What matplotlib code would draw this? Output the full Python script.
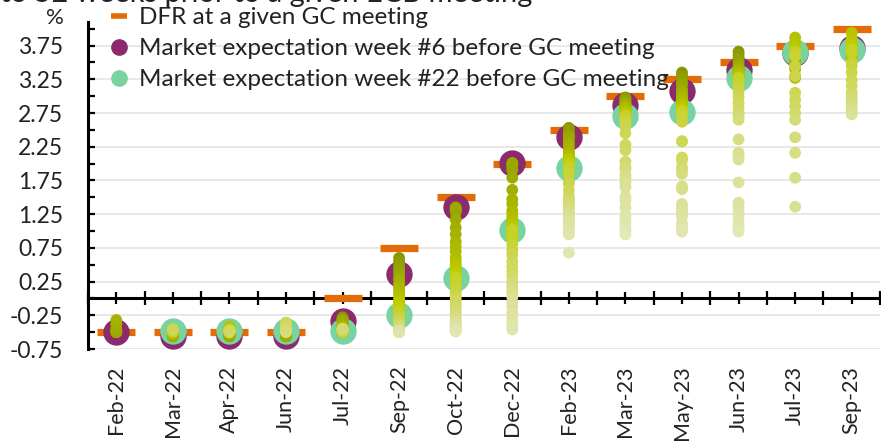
import numpy as np
import matplotlib
matplotlib.use("Agg")
import matplotlib.pyplot as plt
from matplotlib.colors import LinearSegmentedColormap
from matplotlib.lines import Line2D
from matplotlib.ticker import FormatStrFormatter

plt.rcParams['font.family'] = ['Lato', 'DejaVu Sans']
plt.rcParams['axes.unicode_minus'] = False

nan = np.nan

# ECB Governing Council meetings
meetings = ["Feb-22", "Mar-22", "Apr-22", "Jun-22", "Jul-22", "Sep-22", "Oct-22",
            "Dec-22", "Feb-23", "Mar-23", "May-23", "Jun-23", "Jul-23", "Sep-23"]

# deposit facility rate decided at each meeting (%)
dfr = [-0.5, -0.5, -0.5, -0.5, 0.0, 0.75, 1.5, 2.0, 2.5, 3.0, 3.25, 3.5, 3.75, 4.0]

# market expectation 6 and 22 weeks before the meeting
week6 = [-0.5, -0.56, -0.56, -0.56, -0.33, 0.36, 1.35, 2.01, 2.40, 2.87, 3.07, 3.39, 3.64, 3.72]
week22 = [nan, -0.49, -0.49, -0.49, -0.49, -0.24, 0.31, 1.02, 1.94, 2.70, 2.77, 3.27, 3.66, 3.69]

# weekly market expectations, week 1 (closest to meeting) onwards
wk_feb22 = [-0.5, -0.5, -0.48, -0.47, -0.5, -0.5, -0.45, -0.38, -0.32]
wk_mar22 = [-0.55, -0.55, -0.56, -0.56, -0.56, -0.56, -0.55, -0.54, -0.53, -0.52, -0.52,
            -0.51, -0.51, -0.5, -0.5, -0.5, -0.49, -0.49, -0.48, -0.48, -0.48, -0.49,
            -0.47, -0.47, -0.46, -0.46]
wk_apr22 = [-0.55, -0.55, -0.56, -0.56, -0.55, -0.56, -0.54, -0.53, -0.52, -0.5, -0.48,
            -0.46, -0.44, -0.42, -0.42, -0.44, -0.45, -0.46, -0.47, -0.48, -0.48, -0.49,
            -0.48, -0.48, -0.47, -0.48, -0.49, -0.5]
wk_jun22 = [-0.56, -0.56, -0.55, -0.55, -0.56, -0.56, -0.54, -0.52, -0.5, -0.48, -0.46,
            -0.44, -0.42, -0.4, -0.38, -0.37, -0.36, -0.38, -0.4, -0.42, -0.45, -0.49,
            -0.44, -0.42, -0.4, -0.38, -0.36, -0.4, -0.45, -0.48, -0.5]
wk_jul22 = [-0.28, -0.3, -0.3, -0.32, -0.33, -0.33, -0.36, -0.38, -0.4, -0.42, -0.44,
            -0.45, -0.46, -0.47, -0.48, -0.48, -0.49, -0.49, -0.5, -0.5, -0.5, -0.49,
            -0.49, -0.48, -0.48, -0.47, -0.46, -0.46, -0.45, -0.45]
wk_sep22 = [0.6, 0.55, 0.5, 0.45, 0.42, 0.36, 0.3, 0.28, 0.22, 0.18, 0.14, 0.1, 0.06,
            0.02, -0.02, -0.05, -0.08, -0.1, -0.13, -0.16, -0.2, -0.24, -0.27, -0.3,
            -0.33, -0.36, -0.38, -0.4, -0.42, -0.43, -0.45, -0.46, -0.47, -0.48,
            -0.48, -0.49, -0.49, -0.5, -0.5, -0.5]
wk_oct22 = [1.33, 1.3, 1.27, 1.3, 1.33, 1.35, 1.17, 1.05, 0.95, 0.84, 0.77, 0.7, 0.61,
            0.55, 0.5, 0.45, 0.4, 0.37, 0.34, 0.28, 0.22, 0.31, 0.18, 0.09, 0.04, 0.0,
            -0.05, -0.1, -0.15, -0.2, -0.25, -0.28, -0.32, -0.35, -0.38, -0.4, -0.42,
            -0.44, -0.46, -0.47, -0.48, -0.49]
wk_dec22 = [2.0, 1.98, 1.95, 1.92, 1.9, 2.01, 1.79, 1.61, 1.47, 1.4, 1.3, 1.25, 1.2,
            1.15, 1.1, 1.07, 1.05, 1.0, 0.97, 0.95, 0.9, 1.02, 0.8, 0.72, 0.65, 0.55,
            0.47, 0.4, 0.33, 0.25, 0.18, 0.12, 0.09, 0.02, -0.06, -0.12, -0.21, -0.28,
            -0.36, -0.4, -0.46]
wk_feb23 = [2.5, 2.53, 2.45, 2.42, 2.4, 2.4, 2.36, 2.3, 2.25, 2.18, 2.15, 2.12, 2.1,
            2.08, 2.07, 2.06, 2.05, 2.02, 2.0, 1.97, 1.95, 1.94, 1.85, 1.73, 1.7, 1.6,
            1.51, 1.47, 1.44, 1.4, 1.35, 1.3, 1.27, 1.22, 1.18, 1.13, 1.1, 1.05, 1.0,
            0.98, 0.95, 0.68]
wk_mar23 = [2.98, 2.97, 2.95, 2.93, 2.9, 2.87, 2.9, 2.88, 2.85, 2.83, 2.82, 2.8, 2.78,
            2.77, 2.75, 2.75, 2.73, 2.73, 2.72, 2.71, 2.7, 2.7, 2.65, 2.61, 2.55, 2.45,
            2.28, 2.2, 2.03, 1.95, 1.91, 1.83, 1.78, 1.72, 1.65, 1.51, 1.45, 1.35,
            1.24, 1.2, 1.13, 1.05, 1.0, 0.95]
wk_may23 = [3.35, 3.3, 3.25, 3.2, 3.17, 3.07, 3.1, 3.05, 3.0, 2.98, 2.95, 2.92, 2.9,
            2.88, 2.85, 2.83, 2.82, 2.8, 2.78, 2.77, 2.75, 2.77, 2.7, 2.62, 2.33, 2.33,
            2.09, 2.05, 1.95, 1.91, 1.85, 1.66, 1.62, 1.4, 1.36, 1.3, 1.27, 1.22,
            1.12, 1.07, 1.02, 0.99]
wk_jun23 = [3.66, 3.62, 3.58, 3.55, 3.5, 3.39, 3.45, 3.42, 3.4, 3.38, 3.36, 3.35, 3.33,
            3.32, 3.3, 3.3, 3.28, 3.27, 3.25, 3.22, 3.2, 3.27, 3.17, 3.1, 3.05, 2.98,
            2.9, 2.83, 2.75, 2.7, 2.65, 2.36, 2.16, 2.1, 2.06, 1.72, 1.42, 1.35, 1.29,
            1.22, 1.14, 1.08, 1.02, 0.99]
wk_jul23 = [nan, nan, nan, nan, nan, 3.64, 3.6, 3.55, 3.5, 3.45, 3.4, 3.3, 3.27, 3.87,
            3.8, 3.75, 3.7, 3.68, 3.65, 3.62, 3.6, 3.66, 3.59, 3.44, 3.3, 3.05, 2.95,
            2.85, 2.75, 2.65, 2.39, 2.16, 1.79, 1.36]
wk_sep23 = [nan, nan, nan, nan, nan, nan, nan, nan, nan, nan, nan, nan, 3.58, 3.55,
            3.94, 3.85, 3.79, 3.75, 3.7, 3.66, 3.64, 3.69, 3.5, 3.45, 3.35, 3.24, 3.15,
            3.05, 2.99, 2.95, 2.9, 2.85, 2.8, 2.76, 2.73]

weekly = [wk_feb22, wk_mar22, wk_apr22, wk_jun22, wk_jul22, wk_sep22, wk_oct22,
          wk_dec22, wk_feb23, wk_mar23, wk_may23, wk_jun23, wk_jul23, wk_sep23]

orange = "#E36C09"
purple = "#8B2A6C"
green = "#78D3A0"
# olive (week 1) -> pale (week 52)
week_cmap = LinearSegmentedColormap.from_list(
    "weeks", [(0, "#8a9600"), (0.18, "#a9b700"), (0.35, "#c2ce00"),
              (0.48, "#cdd650"), (0.67, "#dbe19a"), (1, "#eaeecc")])

fig = plt.figure(figsize=(8.81, 4.43), dpi=100)
ax = fig.add_axes([88 / 881, 1 - 349 / 443, 792 / 881, 327 / 443])

x = np.arange(len(meetings))

ax.plot(x, dfr, ls="none", marker="_", ms=27, mew=5.2, color=orange, zorder=3)
ax.scatter(x, week6, s=360, color=purple, linewidths=0, zorder=4)
ax.scatter(x, week22, s=360, color=green, linewidths=0, zorder=5)
for i, vals in enumerate(weekly):
    w = np.arange(1, len(vals) + 1)
    ax.scatter(np.full(len(vals), i), vals, c=w, cmap=week_cmap, vmin=1, vmax=52,
               s=72, linewidths=0, zorder=6)

ax.set_xlim(-0.5, len(meetings) - 0.5)
ax.set_ylim(-0.75, 4.1)

# x axis line through zero, labels at the bottom
ax.spines['bottom'].set_position(('data', 0))
ax.spines['bottom'].set_linewidth(2.2)
ax.spines['left'].set_linewidth(2.2)
ax.spines['top'].set_visible(False)
ax.spines['right'].set_visible(False)
ax.set_xticks(x)
ax.set_xticks(np.arange(-0.5, len(meetings), 1), minor=True)
ax.tick_params(axis='x', which='major', direction='inout', length=8, width=1.6,
               labelbottom=False)
ax.tick_params(axis='x', which='minor', direction='inout', length=9.5, width=1.6)

sec = ax.secondary_xaxis(0)
sec.set_xticks(x, labels=meetings, rotation=90)
sec.tick_params(length=0, pad=12, labelsize=15.5, labelcolor="#222222")
sec.spines['bottom'].set_visible(False)

ax.set_yticks(np.arange(-0.75, 3.76, 0.5))
ax.set_yticks(np.arange(-0.5, 4.01, 0.5), minor=True)
ax.yaxis.set_major_formatter(FormatStrFormatter('%.2f'))
ax.tick_params(axis='y', which='both', direction='in', length=5, width=1.6,
               pad=18, labelsize=16.5, labelcolor="#222222")
ax.set_axisbelow(True)
ax.yaxis.grid(True, which='major', color="#e6e6e6", lw=1.3)

fig.text(55 / 881, 1 - 18 / 443, "%", ha="center", va="center", fontsize=16,
         color="#222222")
# title, mostly cut off by the top of the picture
fig.text(0.0, 1 - 2 / 443, "to 52 weeks prior to a given ECB meeting", ha="left",
         va="baseline", fontsize=21, color="#222222")

handles = [
    Line2D([], [], ls="none", marker="_", ms=12, mew=4, color=orange),
    Line2D([], [], ls="none", marker="o", ms=11, color=purple),
    Line2D([], [], ls="none", marker="o", ms=11, color=green),
]
labels = ["DFR at a given GC meeting",
          "Market expectation week #6 before GC meeting",
          "Market expectation week #22 before GC meeting"]
fig.legend(handles, labels, loc="upper left", bbox_to_anchor=(107 / 881, 1 - 7 / 443),
           frameon=False, fontsize=17.5, handlelength=1.0, handletextpad=0.3,
           labelspacing=0.42, borderaxespad=0, borderpad=0, labelcolor="#222222")

fig.savefig("out.png", dpi=100)
